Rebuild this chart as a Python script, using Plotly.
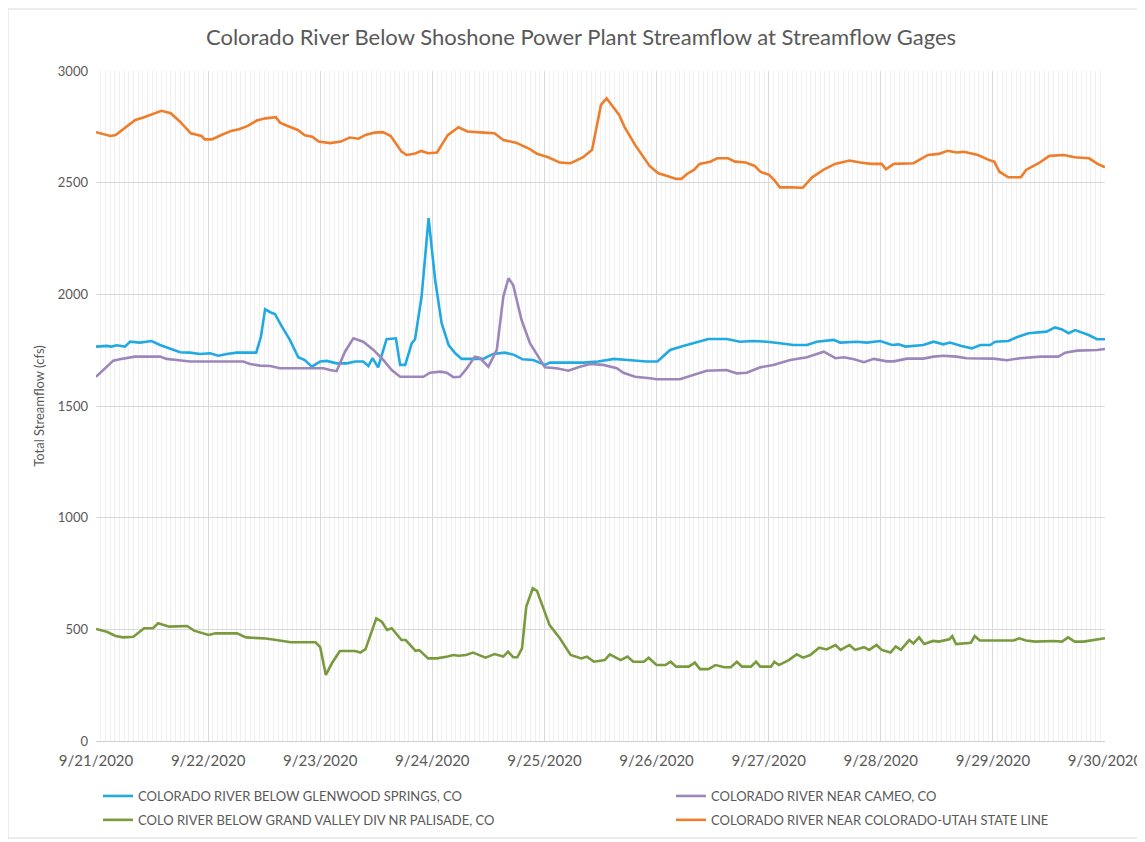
import pandas as pd
import plotly.graph_objects as go

# Hours after 2020-09-21 00:00 and streamflow (cfs)
GW_H = [0, 2.3, 3.3, 4.4, 6.2, 7.3, 9.4, 11.9, 13.7, 15.8,
        18, 20.1, 22.3, 24.4, 26.2, 28, 30.1, 32.3, 34.3, 35.3,
        36.2, 37.3, 38.3, 39.8, 41.5, 43.3, 44.7, 46.2, 48, 49.4,
        51.5, 53.7, 55.5, 57.2, 58.3, 59.2, 60.4, 62.2, 64.2, 65.1,
        66.2, 67.6, 68.3, 69.7, 71.2, 72.6, 74, 75.5, 76.9, 78.3,
        82.9, 85, 87.5, 89.5, 91.3, 93.6, 96.1, 97.2, 104.3, 107.5,
        110.9, 113.8, 117.9, 120.2, 122.9, 125.7, 128.6, 131.1, 135, 137.9,
        140.7, 143.6, 146.4, 149.3, 152.2, 154.3, 157.9, 159.3, 162.9, 165,
        167.9, 170.4, 171.8, 173.3, 177.1, 179.3, 181.4, 182.8, 185.3, 187.5,
        189.3, 191.4, 192.5, 195.3, 197.1, 199.6, 203.5, 205.3, 206.8, 208.2,
        209.6, 211, 212.5, 214.3, 216]
GW_V = [1766, 1769, 1766, 1772, 1766, 1788, 1784, 1791, 1773, 1758,
        1741, 1739, 1733, 1736, 1725, 1733, 1739, 1739, 1739, 1810,
        1933, 1920, 1912, 1855, 1796, 1718, 1706, 1676, 1699, 1702,
        1691, 1691, 1699, 1699, 1679, 1714, 1673, 1799, 1803, 1684,
        1684, 1781, 1799, 1990, 2341, 2064, 1870, 1773, 1736, 1711,
        1711, 1733, 1739, 1729, 1709, 1706, 1684, 1694, 1694, 1699,
        1711, 1706, 1699, 1699, 1751, 1769, 1784, 1800, 1800, 1788,
        1791, 1788, 1781, 1773, 1773, 1788, 1796, 1784, 1788, 1784,
        1791, 1773, 1776, 1766, 1773, 1788, 1776, 1784, 1769, 1758,
        1773, 1773, 1788, 1791, 1808, 1826, 1833, 1852, 1843, 1826,
        1840, 1830, 1818, 1799, 1799]

CAM_H = [0, 1.9, 3.7, 5.1, 6.6, 8.3, 13.7, 15.1, 17.3, 20.1,
         23.7, 31.5, 33, 35.1, 37.3, 39.4, 42.2, 48.7, 50.1, 51.5,
         53.3, 55.1, 57.2, 59.4, 61.5, 63.3, 65.1, 67.2, 70.1, 71.5,
         73.7, 75.1, 76.5, 77.9, 79.4, 81.1, 82.2, 84, 85.8, 87.2,
         88.3, 89.3, 91.1, 92.9, 94.4, 96.1, 98.6, 101.1, 103.6, 105.8,
         108.6, 111.5, 112.9, 115.4, 118.6, 120, 125, 127.9, 130.7, 135,
         137.2, 139.3, 142.2, 145, 148.6, 152.2, 154, 155.8, 158.3, 160.1,
         162.3, 164.4, 166.5, 169.3, 170.8, 173.6, 177.1, 179.3, 181.4, 184.2,
         186.4, 192.1, 195, 197.8, 202.1, 206, 207.5, 210, 214.3, 216]
CAM_V = [1631, 1669, 1703, 1709, 1715, 1721, 1721, 1711, 1706, 1699,
         1699, 1699, 1688, 1681, 1679, 1669, 1669, 1669, 1661, 1656,
         1743, 1803, 1788, 1751, 1706, 1661, 1631, 1631, 1631, 1649,
         1654, 1649, 1629, 1631, 1669, 1721, 1715, 1676, 1751, 1990,
         2072, 2042, 1885, 1781, 1729, 1673, 1669, 1658, 1676, 1688,
         1684, 1669, 1649, 1631, 1624, 1620, 1620, 1639, 1658, 1661,
         1646, 1649, 1673, 1684, 1706, 1718, 1729, 1743, 1714, 1718,
         1709, 1696, 1711, 1700, 1700, 1712, 1712, 1721, 1725, 1721,
         1714, 1712, 1705, 1714, 1721, 1721, 1739, 1748, 1751, 1755]

PAL_H = [0, 2.3, 4.2, 5.8, 8, 10.3, 12.2, 13.3, 15.7, 19.5,
         21, 24.1, 25.6, 30.2, 32.1, 36.3, 38.6, 41.7, 47, 48,
         49.2, 50.5, 52.2, 55.5, 56.6, 57.7, 60, 61.2, 62.3, 63.3,
         65.4, 66.3, 68.4, 69.2, 71.1, 73, 75.3, 76.5, 77.6, 79.2,
         80.7, 82.2, 83.4, 85.3, 87.2, 88.2, 89.3, 90.2, 91.2, 92.1,
         93.5, 94.4, 97.1, 99.3, 101.6, 103.9, 105.1, 106.6, 108.9, 110,
         112.3, 113.8, 115, 117.3, 118.3, 120, 121.9, 123, 124.2, 126.9,
         128.2, 129.3, 131.1, 132.6, 134.5, 135.9, 137.2, 138.3, 140.2, 141.3,
         142.2, 144.5, 145.2, 146.2, 148.3, 150, 151.4, 152.9, 154.8, 156.4,
         158.3, 159.4, 161.3, 162.5, 164.4, 165.5, 167.1, 168.2, 170.1, 171.2,
         172.3, 174.1, 175, 176.2, 177.3, 179.2, 180.4, 182.7, 183.3, 184.1,
         187.3, 188.1, 189.2, 196.5, 197.6, 199.1, 201.1, 204.9, 206.8, 208.1,
         209.5, 211.4, 213.3, 216]
PAL_V = [502, 489, 470, 464, 467, 505, 505, 527, 512, 515,
         494, 475, 482, 482, 464, 459, 452, 442, 442, 420,
         296, 348, 403, 403, 396, 411, 549, 534, 497, 505,
         452, 452, 404, 407, 370, 370, 378, 385, 382, 385,
         396, 382, 373, 389, 378, 400, 375, 375, 415, 601,
         684, 672, 519, 460, 385, 370, 378, 355, 362, 388,
         362, 378, 355, 355, 373, 340, 340, 355, 333, 333,
         351, 322, 322, 340, 330, 330, 355, 333, 333, 355,
         333, 333, 355, 340, 362, 388, 373, 385, 418, 410,
         430, 408, 430, 408, 420, 408, 430, 408, 396, 423,
         408, 452, 437, 464, 434, 448, 445, 455, 470, 434,
         440, 470, 450, 450, 460, 450, 445, 448, 445, 464,
         445, 445, 452, 460]

STL_H = [0, 3.1, 4.2, 6.5, 8.4, 10, 11.9, 14, 16, 18,
         20.3, 22.6, 23.3, 24.8, 27.2, 29.1, 30.6, 32.5, 34.4, 36.3,
         38.5, 39.4, 40.9, 43.2, 44.7, 46.3, 47.7, 50.1, 52.4, 54.3,
         56.2, 57.7, 59.6, 61.4, 63.1, 65.4, 66.5, 68.1, 69.6, 71.1,
         73, 75.3, 77.6, 79.5, 83, 85.3, 87.2, 89.9, 92.9, 94.4,
         96.8, 99.3, 101.6, 104.3, 106.2, 108.1, 109.3, 112, 113.1, 115.4,
         118.5, 120.4, 122.3, 124.2, 125.3, 126.5, 128, 129.2, 131.5, 133,
         135.3, 136.8, 139.1, 141, 142.2, 144.1, 145.2, 146.4, 149, 151.3,
         153.3, 155.9, 158.2, 161.3, 163.6, 165.9, 168.2, 169.1, 170.8, 175,
         178.1, 180.4, 182.3, 184.2, 185.8, 188.8, 191.1, 192.3, 193.4, 195.3,
         198, 199.1, 201.8, 204.1, 207.2, 209.5, 212.6, 214.4, 216]
STL_V = [2726, 2709, 2713, 2751, 2781, 2791, 2806, 2822, 2811, 2773,
         2721, 2709, 2694, 2694, 2717, 2733, 2739, 2754, 2778, 2788,
         2793, 2769, 2755, 2736, 2712, 2706, 2684, 2677, 2684, 2702,
         2697, 2714, 2724, 2726, 2709, 2639, 2624, 2629, 2642, 2632,
         2635, 2713, 2748, 2729, 2724, 2721, 2691, 2679, 2650, 2629,
         2614, 2590, 2587, 2614, 2647, 2848, 2878, 2803, 2751, 2669,
         2575, 2542, 2530, 2517, 2517, 2539, 2557, 2584, 2594, 2609,
         2609, 2594, 2590, 2575, 2549, 2535, 2512, 2479, 2479, 2477,
         2524, 2560, 2584, 2599, 2590, 2584, 2584, 2560, 2584, 2587,
         2624, 2629, 2643, 2635, 2638, 2624, 2602, 2594, 2549, 2524,
         2524, 2557, 2587, 2620, 2624, 2614, 2609, 2584, 2569]

SERIES = [
    ("COLORADO RIVER BELOW GLENWOOD SPRINGS, CO", GW_H, GW_V, "#21a9e1", "legend"),
    ("COLORADO RIVER NEAR CAMEO, CO", CAM_H, CAM_V, "#9d87ba", "legend2"),
    ("COLO RIVER BELOW GRAND VALLEY DIV NR PALISADE, CO", PAL_H, PAL_V, "#7a9a3e", "legend"),
    ("COLORADO RIVER NEAR COLORADO-UTAH STATE LINE", STL_H, STL_V, "#ee7d2c", "legend2"),
]

BASE = pd.Timestamp("2020-09-21 00:00")
FONT = "Lato, 'Open Sans', sans-serif"
GRAY = "#595959"

fig = go.Figure()
for i, (name, hrs, vals, color, leg) in enumerate(SERIES):
    x = BASE + pd.to_timedelta(hrs, unit="h")
    fig.add_trace(go.Scatter(
        x=x, y=vals, mode="lines", name=name,
        line=dict(color=color, width=2.6, shape="linear"),
        legend=leg, legendgroup=f"g{i}",
    ))

# The page body adds an 8px offset; layout below is in figure pixels.
OFF = 8
W, H = 1145, 842
L, T = 96 - OFF, 71 - OFF
R = W - (1105 - OFF)
B = H - (741 - OFF)
pw, ph = W - L - R, H - T - B

def px(page_x):
    return (page_x - OFF - L) / pw

def py(page_y):
    return (H - B - (page_y - OFF)) / ph

fig.update_layout(
    width=W, height=H,
    margin=dict(l=L, r=R, t=T, b=B, autoexpand=False),
    paper_bgcolor="white", plot_bgcolor="white",
    font=dict(family=FONT, color=GRAY, size=12),
    title=dict(text="Colorado River Below Shoshone Power Plant Streamflow at Streamflow Gages",
               x=(581 - OFF) / W, xanchor="center", y=1 - (37 - OFF) / H, yanchor="middle",
               font=dict(size=22, color=GRAY, family=FONT)),
    xaxis=dict(
        type="date",
        range=["2020-09-21", "2020-09-30"],
        dtick=86400000, tick0="2020-09-21",
        tickformat="%-m/%-d/%Y",
        tickfont=dict(size=15, color=GRAY),
        showgrid=True, gridcolor="#d9d9d9", gridwidth=1,
        minor=dict(dtick=3600000, showgrid=True, gridcolor="#f0f0f0", gridwidth=1),
        showline=True, linecolor="#d0d0d0", linewidth=1,
        ticks="", zeroline=False, ticklabelstandoff=6,
    ),
    yaxis=dict(
        range=[0, 3000], dtick=500,
        tickfont=dict(size=13, color=GRAY),
        showgrid=True, gridcolor="#d9d9d9", gridwidth=1,
        zeroline=False, ticks="", ticklabelstandoff=7,
        title=dict(text="Total Streamflow (cfs)", font=dict(size=13, color=GRAY), standoff=10),
    ),
    legend=dict(x=px(98), y=py(781), xanchor="left", yanchor="top",
                orientation="v", tracegroupgap=4,
                font=dict(size=13, color=GRAY), bgcolor="rgba(0,0,0,0)"),
    legend2=dict(x=px(671), y=py(781), xanchor="left", yanchor="top",
                 orientation="v", tracegroupgap=4,
                 font=dict(size=13, color=GRAY), bgcolor="rgba(0,0,0,0)"),
    showlegend=True,
)

fig.add_shape(type="rect", xref="paper", yref="paper",
              x0=px(8), x1=px(1139), y0=py(838), y1=py(9),
              line=dict(color="#d9d9d9", width=1), fillcolor="rgba(0,0,0,0)", layer="below")

fig.write_html("out.html")
